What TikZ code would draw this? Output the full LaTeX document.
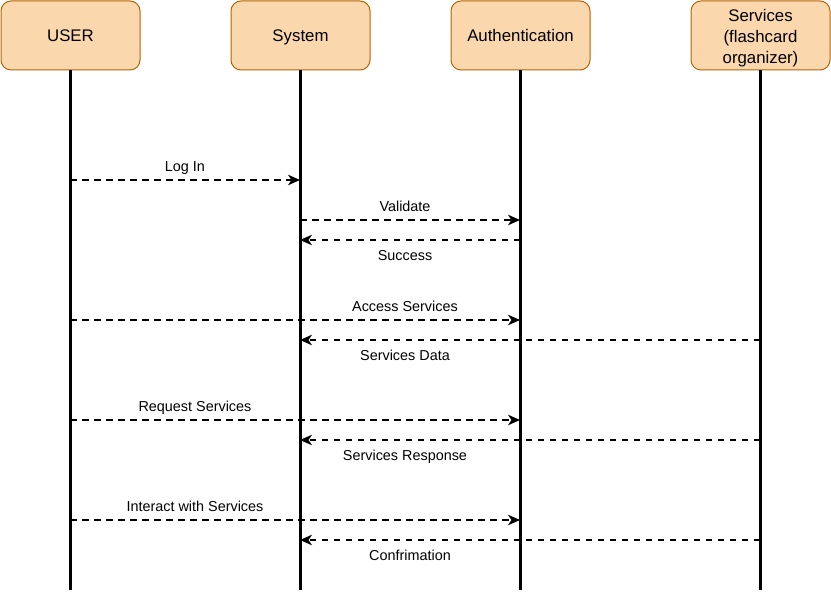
\documentclass[tikz,border=0pt]{standalone}
\usepackage{fontspec}
\setmainfont{Liberation Sans}
\usetikzlibrary{arrows.meta}
\definecolor{boxfill}{HTML}{FAD7AC}
\definecolor{boxdraw}{HTML}{B46504}
\tikzset{
  actor/.style={draw=boxdraw, fill=boxfill, rounded corners=10pt, line width=1pt,
    minimum width=139pt, minimum height=69pt, inner sep=0pt, align=center,
    font=\fontsize{16.8}{21}\selectfont},
  oneline/.style={text height=12pt, text depth=0pt},
  lifeline/.style={line width=3pt, black},
  msg/.style={line width=1.5pt, dash pattern=on 6.5pt off 5.5pt,
    -{Stealth[length=12pt,width=10.5pt,inset=3.5pt]}},
  lbl/.style={font=\fontsize{14.4}{17}\selectfont, inner sep=0pt,
    text height=10.3pt, text depth=0pt}
}
\begin{document}
\begin{tikzpicture}[x=1pt,y=-1pt]
\useasboundingbox (0,0) rectangle (831,593);
% actors
\node[actor,oneline] (user) at (70.5,35.5) {USER};
\node[actor,oneline] (sys) at (300.5,35.5) {System};
\node[actor,oneline] (auth) at (520.5,35.5) {Authentication};
\node[actor] (serv) at (760.5,35.5) {\raisebox{-3pt}[\height][\depth]{\begin{tabular}{@{}c@{}}Services\\(flashcard\\organizer)\end{tabular}}};
% lifeline ends
\coordinate (userE) at (70,590);
\coordinate (sysE) at (300,590);
\coordinate (authE) at (520,590);
\coordinate (servE) at (760,590);
\draw[lifeline] (user.south -| userE) -- (userE);
\draw[lifeline] (sys.south -| sysE) -- (sysE);
\draw[lifeline] (auth.south -| authE) -- (authE);
\draw[lifeline] (serv.south -| servE) -- (servE);
% message points
\foreach \y/\n in {180/1,220/2,240/3,320/4,340/5,420/6,440/7,520/8,540/9}{
  \coordinate (u\n) at (70,\y);
  \coordinate (s\n) at (300,\y);
  \coordinate (a\n) at (520,\y);
  \coordinate (v\n) at (760,\y);
}
\draw[msg] (u1) -- (s1);
\draw[msg] (s2) -- (a2);
\draw[msg] (a3) -- (s3);
\draw[msg] (u4) -- (a4);
\draw[msg] (v5) -- (s5);
\draw[msg] (u6) -- (a6);
\draw[msg] (v7) -- (s7);
\draw[msg] (u8) -- (a8);
\draw[msg] (v9) -- (s9);
% labels
\node[lbl] (l1) at (185,166) {Log In};
\node[lbl] (l2) at (405,206) {Validate};
\node[lbl] (l3) at (405,255) {Success};
\node[lbl] (l4) at (405,306) {Access Services};
\node[lbl] (l5) at (405,355) {Services Data};
\node[lbl] (l6) at (195,406) {Request Services};
\node[lbl] (l7) at (405,455) {Services Response};
\node[lbl] (l8) at (195,506) {Interact with Services};
\node[lbl] (l9) at (410,555) {Confrimation};
\end{tikzpicture}
\end{document}
